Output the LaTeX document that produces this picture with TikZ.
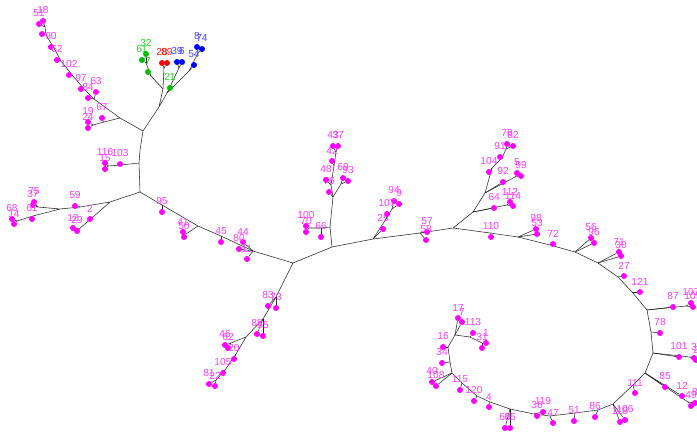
\documentclass[tikz,border=0pt]{standalone}
\usepackage{fontspec}
\setmainfont{Liberation Sans}
\definecolor{mg}{RGB}{255,0,255}
\definecolor{mglab}{RGB}{255,60,255}
\definecolor{gr}{RGB}{0,190,0}
\definecolor{grlab}{RGB}{40,210,40}
\definecolor{rd}{RGB}{255,0,0}
\definecolor{rdlab}{RGB}{255,30,30}
\definecolor{bl}{RGB}{0,0,255}
\definecolor{bllab}{RGB}{70,70,255}
\pgfdeclarelayer{bg}
\pgfsetlayers{bg,main}
\begin{document}
\begin{tikzpicture}[x=1pt,y=-1pt,font=\fontsize{10.2}{11}\selectfont,
	edge/.style={draw=black!85,line width=0.55pt},
	leaf/.style={circle,fill=#1,inner sep=0pt,minimum size=6pt},
	lab/.style={text=#1,inner sep=0pt,label distance=3.6pt}]
	\useasboundingbox (0,0) rectangle (697,436);
	\path
	%	upper part
	(143,131) coordinate (r1)
	(120,118) coordinate (a1)
	(94,99) coordinate (a2)
	(85,90) coordinate (a3)
	(73,76) coordinate (a4)
	(61,61) coordinate (a5)
	(54,48) coordinate (a6)
	(46,35) coordinate (a7)
	(45,27) coordinate (a8)
	(104,122) coordinate (b2)
	(93,125) coordinate (b1)
	(140,150) coordinate (v1)
	(139,163) coordinate (v2)
	(121,165) coordinate (w2)
	(108,166) coordinate (w1)
	(140,192) coordinate (j2)
	(159,107) coordinate (c1)
	(163,89) coordinate (c2)
	(151,76) coordinate (cg1)
	(146,63) coordinate (cg2)
	(164,68) coordinate (cr)
	(167,93) coordinate (c3)
	(179,68) coordinate (c5)
	(189,71) coordinate (c6)
	(198,53) coordinate (c7)
	%	left part
	(110,202) coordinate (k1)
	(80,207) coordinate (k0)
	(60,209) coordinate (k2)
	(38,207) coordinate (k3)
	(33,216) coordinate (k5)
	(17,221) coordinate (k4)
	(93,217) coordinate (k7)
	(79,229) coordinate (k6)
	(162,205) coordinate (m0)
	(198,226) coordinate (m1)
	(186,234) coordinate (m4)
	(221,236) coordinate (m2)
	(253,251) coordinate (m3)
	(293,263) coordinate (j3)
	(276,297) coordinate (d1)
	(263,319) coordinate (d2)
	(246,337) coordinate (d3)
	(231,343) coordinate (d7)
	(236,354) coordinate (d4)
	(225,370) coordinate (d5)
	(216,380) coordinate (d6)
	%	middle part
	(332,247) coordinate (e1)
	(330,227) coordinate (e2)
	(321,228) coordinate (e10)
	(309,228) coordinate (e9)
	(333,197) coordinate (e3)
	(341,184) coordinate (e4)
	(331,185) coordinate (e6)
	(334,166) coordinate (e7)
	(336,152) coordinate (e8)
	(373,239) coordinate (f1)
	(386,219) coordinate (f5)
	(392,209) coordinate (f4)
	(420,233) coordinate (f2)
	(453,228) coordinate (f3)
	(473,212) coordinate (g1)
	(507,205) coordinate (g5)
	(485,193) coordinate (g2)
	(515,177) coordinate (g7)
	(492,168) coordinate (g3)
	(502,158) coordinate (g9)
	(506,149) coordinate (g4)
	%	right part
	(490,233) coordinate (h0)
	(518,237) coordinate (h1)
	(550,245) coordinate (h2)
	(575,252) coordinate (h3)
	(598,263) coordinate (h4)
	(618,277) coordinate (h5)
	(632,292) coordinate (h6)
	(647,310) coordinate (h7)
	(686,306) coordinate (h7b)
	(651,332) coordinate (h8)
	(653,353) coordinate (h9)
	(690,357) coordinate (h9b)
	(645,373) coordinate (h10)
	(688,402) coordinate (h10b)
	(633,385) coordinate (h10c)
	(613,404) coordinate (h11)
	(598,410) coordinate (h12)
	(575,413) coordinate (h13)
	(550,416) coordinate (h14)
	(534,414) coordinate (h15)
	(510,409) coordinate (h16)
	(490,402) coordinate (h17)
	(477,396) coordinate (h18b)
	(470,390) coordinate (h18)
	(462,383) coordinate (h19b)
	(452,373) coordinate (h19)
	(450,362) coordinate (h20b)
	(448,347) coordinate (h20)
	(455,335) coordinate (h21)
	(470,337) coordinate (h22)
	(482,343) coordinate (h23)
	;
	\begin{pgfonlayer}{bg}
	\draw[edge]
	(r1)--(a1)--(a2)--(a3)--(a4)--(a5)--(a6)--(a7)--(a8)
	(a1)--(b2)--(b1)
	(r1)--(v1)--(v2)--(j2)
	(v2)--(w2)--(w1)
	(r1)--(c1)--(c2)--(cg1)--(cg2)
	(c2)--(cr)
	(c1)--(c3)--(c5)
	(c3)--(c6)--(c7)
	(j2)--(k1)--(k0)--(k2)--(k3)
	(k2)--(k5)--(k4)
	(k1)--(k7)--(k6)
	(j2)--(m0)--(m1)--(m2)--(m3)--(j3)
	(m1)--(m4)
	(j3)--(d1)--(d2)--(d3)--(d4)--(d5)--(d6)
	(d3)--(d7)
	(j3)--(e1)--(e2)--(e3)--(e6)--(e7)--(e8)
	(e2)--(e10)--(e9)
	(e3)--(e4)
	(e1)--(f1)--(f2)--(f3)
	(f1)--(f5)--(f4)
	(f3)--(g1)--(g2)--(g3)--(g9)--(g4)
	(g1)--(g5)
	(g2)--(g7)
	(f3)--(h0)--(h1)--(h2)--(h3)--(h4)--(h5)--(h6)--(h7)--(h8)--(h9)--(h10)--(h10c)--(h11)
	--(h12)--(h13)--(h14)--(h15)--(h16)--(h17)--(h18b)--(h18)--(h19b)--(h19)--(h20b)--(h20)
	--(h21)--(h22)--(h23)
	(h7)--(h7b)
	(h9)--(h9b)
	(h10)--(h10b)
	;
	\end{pgfonlayer}
	% leaves
	\foreach \t/\x/\y/\p in {51/39/24/a8, 18/43/21/a8, 9/42/34/a7, 90/51/47/a6, 62/57/60/a5,
		102/69/75/a4, 97/81/89/a3, 84/88/98/a2, 63/96/92/a2, 67/102/118/b2, 19/88/122/b1,
		24/88/128/b1, 116/105/163/w1, 15/105/169/w1, 103/120/164/w2,
		75/34/202/k3, 37/33/205/k3, 68/12/219/k4, 14/14/224/k4, 61/32/219/k5, 59/75/206/k0,
		12/73/228/k6, 29/77/231/k6, 2/90/219/k7,
		95/162/212/m0, 41/183/232/m4, 50/184/237/m4, 45/221/242/m2, 44/243/242/m3,
		80/239/249/m3, 11/247/259/m3,
		83/268/306/d1, 73/276/308/d1, 88/257/334/d2, 55/263/336/d2, 46/225/345/d7,
		62/228/348/d7, 20/234/359/d4, 105/223/373/d5, 81/209/384/d6, 22/215/386/d6,
		100/306/226/e9, 70/306/232/e9, 66/321/237/e10, 76/329/192/e3, 48/326/180/e6,
		69/343/178/e4, 93/348/181/e4, 42/332/161/e7, 43/333/146/e8, 37/338/146/e8,
		94/394/201/f4, 9/399/204/f4, 107/387/214/f5, 25/383/229/f1, 57/427/232/f2,
		58/426/240/f2,
		64/494/208/g1, 112/510/202/g5, 114/513/206/g5, 92/503/182/g2, 5/517/173/g7,
		99/521/176/g7, 104/489/172/g3, 91/500/157/g9, 78/507/144/g4, 82/513/146/g4,
		110/491/237/h0, 98/536/229/h1, 53/537/234/h1, 72/553/244/h2, 56/591/238/h3,
		96/594/243/h3, 71/619/252/h4, 30/621/256/h4, 27/624/276/h5, 121/640/292/h6,
		87/673/307/h7, 107/691/303/h7b, 109/693/307/h7b, 78/660/333/h8, 101/679/357/h9,
		3/694/358/h9b, 2/696/360/h9b, 85/665/387/h10, 12/682/396/h10, 49/691/406/h10b,
		8/695/403/h10b, 111/635/393/h10c, 118/620/422/h11, 106/625/420/h11,
		86/595/417/h12, 51/574/421/h13, 47/553/423/h14, 119/543/412/h15, 36/537/416/h15,
		60/505/428/h16, 65/510/428/h16, 4/489/407/h17, 120/474/401/h18b,
		115/460/390/h19b, 40/432/382/h19, 108/436/386/h19, 34/442/363/h20b,
		16/443/347/h20, 17/458/318/h21, 7/462/322/h21, 113/473/333/h22,
		31/482/348/h23, 1/486/343/h23}{
		\node[leaf=mg,label={[lab=mglab]above:\t}] (\p-\t) at (\x,\y) {};
		\begin{pgfonlayer}{bg}
		\draw[edge] (\p)--(\p-\t);
		\end{pgfonlayer}
	}
	\foreach \t/\x/\y/\p in {21/170/88/c3, 7/148/72/cg1, 61/142/60/cg2, 32/146/54/cg2}{
		\node[leaf=gr,label={[lab=grlab]above:\t}] (\p-\t) at (\x,\y) {};
		\begin{pgfonlayer}{bg}
		\draw[edge] (\p)--(\p-\t);
		\end{pgfonlayer}
	}
	\foreach \t/\x/\y/\p in {28/162/63/cr, 89/167/63/cr}{
		\node[leaf=rd,label={[lab=rdlab]above:\t}] (\p-\t) at (\x,\y) {};
		\begin{pgfonlayer}{bg}
		\draw[edge] (\p)--(\p-\t);
		\end{pgfonlayer}
	}
	\foreach \t/\x/\y/\p in {39/177/62/c5, 6/182/62/c5, 54/194/65/c6, 8/197/47/c7, 74/202/49/c7}{
		\node[leaf=bl,label={[lab=bllab]above:\t}] (\p-\t) at (\x,\y) {};
		\begin{pgfonlayer}{bg}
		\draw[edge] (\p)--(\p-\t);
		\end{pgfonlayer}
	}
\end{tikzpicture}
\end{document}
